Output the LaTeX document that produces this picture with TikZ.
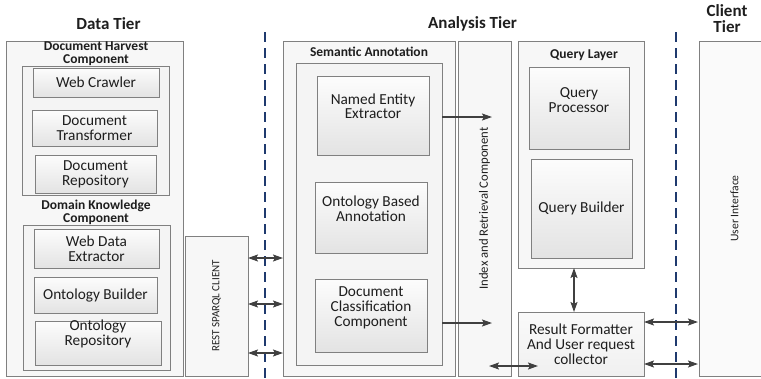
\documentclass[tikz,border=0pt]{standalone}
\usepackage{fontspec}
\setmainfont{Carlito}
\usetikzlibrary{arrows.meta}

\definecolor{frame}{HTML}{808080}
\definecolor{tierline}{HTML}{1F3A6E}
\definecolor{link}{HTML}{404040}
\definecolor{ink}{HTML}{1E1E1E}

% shift the lines of a box up without changing its reported size
\newcommand\upby[2]{\raisebox{#1}[\height][\depth]{\begin{tabular}{@{}c@{}}#2\end{tabular}}}

\begin{document}
\begin{tikzpicture}[x=1pt,y=-1pt,
  every node/.style={text=ink, inner sep=0pt, outer sep=0pt},
  panel/.style={draw=frame, line width=0.9pt, fill=gray!6},
  group/.style={draw=frame, line width=0.9pt, fill=gray!9},
  item/.style={draw=frame, line width=0.9pt, top color=gray!2, bottom color=gray!22,
    align=center, font=\fontsize{15.3}{14.8}\selectfont},
  tiertitle/.style={font=\fontsize{17}{17}\selectfont\bfseries, align=center},
  grouptitle/.style={font=\fontsize{13.5}{13}\selectfont\bfseries, align=center},
  sidetext/.style={rotate=90, font=\fontsize{12.7}{13}\selectfont},
  tierline/.style={draw=tierline, line width=2pt, dash pattern=on 10pt off 6pt},
  flow/.style={draw=link, line width=1.6pt, -{Stealth[length=10pt,width=7pt,inset=2pt]}},
  twoway/.style={draw=link, line width=1.6pt,
    {Stealth[length=10pt,width=7pt,inset=2pt]}-{Stealth[length=10pt,width=7pt,inset=2pt]}}
]
\useasboundingbox (0,0) rectangle (761,378);
\clip (0,0) rectangle (761,378);

% tier headings
\node[tiertitle] (tdata) at (108.5,24) {Data Tier};
\node[tiertitle] (tanalysis) at (472.5,24) {Analysis Tier};
\node[tiertitle, font=\fontsize{17}{16}\selectfont\bfseries] (tclient) at (727,19) {Client\\Tier};

% ---------------- data tier ----------------
\node[panel, minimum width=177pt, minimum height=335pt] (data) at (94.5,208.5) {};
\node[grouptitle] (harvestlbl) at (96,53.5) {Document Harvest\\Component};
\node[group, minimum width=147pt, minimum height=129pt] (harvest) at (95.5,130.5) {};
\node[item, minimum width=126pt, minimum height=29pt] (crawler) at (96,82.5) {Web Crawler};
\node[item, minimum width=125pt, minimum height=36pt] (transformer) at (94.5,128) {Document\\Transformer};
\node[item, minimum width=121pt, minimum height=38pt] (docrepo) at (95.5,174) {Document\\Repository};

\node[grouptitle] (domainlbl) at (96,212) {Domain Knowledge\\Component};
\node[group, minimum width=147pt, minimum height=145pt] (domain) at (96.5,297.5) {};
\node[item, minimum width=125pt, minimum height=39pt] (webdata) at (96.5,248.5) {Web Data\\Extractor};
\node[item, minimum width=123pt, minimum height=36pt] (ontbuilder) at (95.5,295) {Ontology Builder};
\node[item, minimum width=126pt, minimum height=44pt] (ontrepo) at (98,343) {\upby{8pt}{Ontology\\Repository}};

\node[panel, minimum width=63pt, minimum height=140pt] (rest) at (216.5,306) {};
\node[sidetext, font=\fontsize{11}{11}\selectfont] (restlbl) at (rest.center) {REST SPARQL CLIENT};

% ---------------- analysis tier ----------------
\node[panel, minimum width=172pt, minimum height=335pt] (semantic) at (369,208.5) {};
\node[grouptitle] (semanticlbl) at (369,52) {Semantic Annotation};
\node[group, minimum width=146pt, minimum height=302pt] (semin) at (369,214) {};
\node[item, minimum width=112pt, minimum height=79pt] (nee) at (373,115.5) {\upby{7pt}{Named Entity\\Extractor}};
\node[item, minimum width=112pt, minimum height=71pt] (oba) at (371,217.5) {\upby{7pt}{Ontology Based\\Annotation}};
\node[item, minimum width=112pt, minimum height=73pt] (dcc) at (371,315.5) {\upby{7pt}{Document\\Classification\\Component}};

\node[panel, minimum width=53pt, minimum height=335pt] (index) at (484.5,208.5) {};
\node[sidetext] (indexlbl) at (index.center) {Index and Retrieval Component};

\node[panel, minimum width=126pt, minimum height=227pt] (query) at (581,154.5) {};
\node[grouptitle] (querylbl) at (584,55) {Query Layer};
\node[item, minimum width=100pt, minimum height=82pt] (qproc) at (579,108) {\upby{6pt}{Query\\Processor}};
\node[item, minimum width=101pt, minimum height=99pt] (qbuild) at (581.5,208.5) {Query Builder};

\node[item, minimum width=126pt, minimum height=64pt, top color=gray!4, bottom color=gray!12] (result) at (581,344) {Result Formatter\\And User request\\collector};

% ---------------- client tier ----------------
\node[panel, fill=gray!4, minimum width=71pt, minimum height=335pt] (ui) at (734.5,208.5) {};
\node[sidetext, font=\fontsize{11.6}{12}\selectfont] (uilbl) at (ui.center) {User Interface};

% tier boundaries
\coordinate (b1top) at (265,32);
\coordinate (b1bot) at (265,378);
\coordinate (b2top) at (676,32);
\coordinate (b2bot) at (676,378);
\draw[tierline] (b1top) -- (b1bot);
\draw[tierline] (b2top) -- (b2bot);

% connectors
\draw[twoway] (rest.east |- 0,258) -- (semantic.west |- 0,258);
\draw[twoway] (rest.east |- 0,304) -- (semantic.west |- 0,304);
\draw[twoway] (rest.east |- 0,353) -- (semantic.west |- 0,353);

\coordinate (neeend) at (492,117);
\coordinate (dccend) at (492,323);
\draw[flow] (semin.east |- neeend) -- (neeend);
\draw[flow] (semin.east |- dccend) -- (dccend);

\coordinate (idxend) at (489,366);
\coordinate (resend) at (538,366);
\draw[twoway] (idxend) -- (resend);

\draw[twoway] (query.south -| 574,0) -- (result.north -| 574,0);

\draw[twoway] (result.east |- 0,322) -- ([xshift=-1pt]ui.west |- 0,322);
\draw[twoway] (result.east |- 0,364) -- ([xshift=-1pt]ui.west |- 0,364);
\end{tikzpicture}
\end{document}
